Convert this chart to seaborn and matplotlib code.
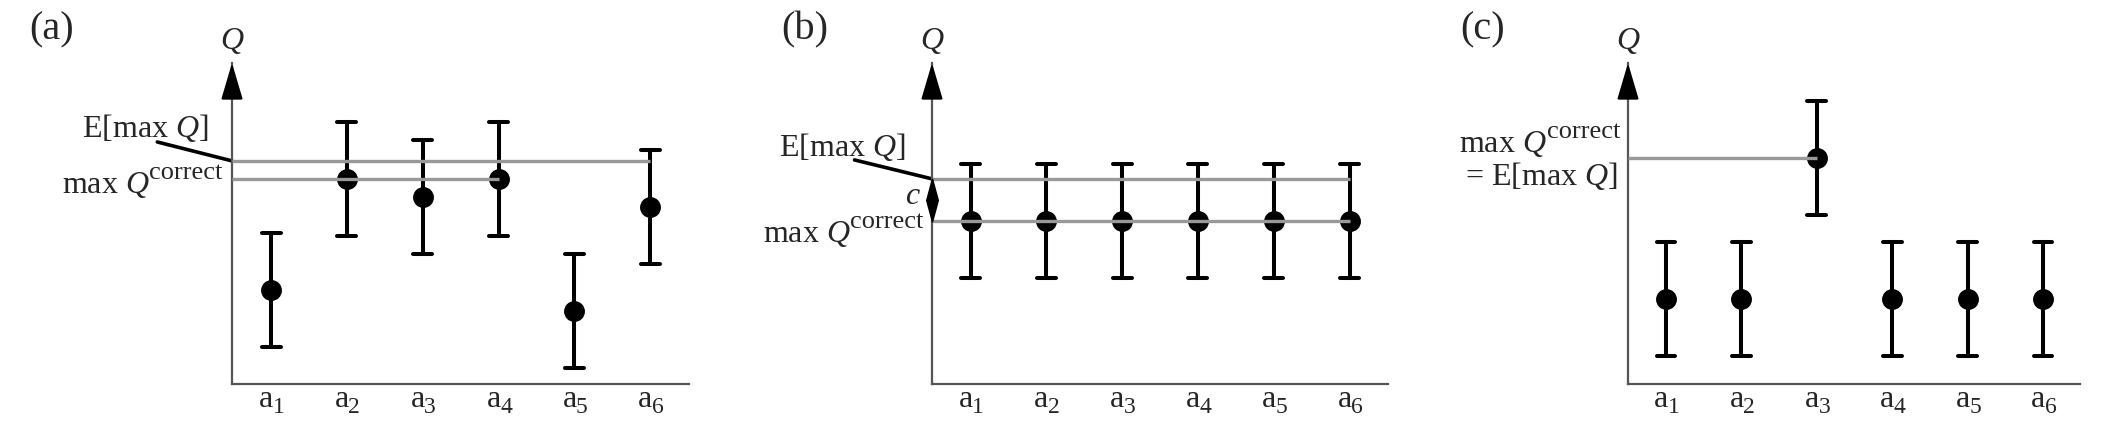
import numpy as np
import pandas as pd
import matplotlib.pyplot as plt
import matplotlib.transforms as mtransforms
import seaborn as sns

# values (Q axis runs 0..10, arrow tip = 10)
actions = ['a1', 'a2', 'a3', 'a4', 'a5', 'a6']
q_a = [2.93, 6.39, 5.83, 6.39, 2.27, 5.51]
q_b = [5.08, 5.08, 5.08, 5.08, 5.08, 5.08]
q_c = [2.65, 2.65, 7.04, 2.65, 2.65, 2.65]
spread = 1.78          # half length of every error bar
e_max_a, correct_a = 6.95, 6.39
e_max_b, correct_b = 6.39, 5.08
e_max_c = 7.04

sns.set_theme(style='white')
plt.rcParams['font.family'] = ['Liberation Serif', 'DejaVu Serif']
plt.rcParams['mathtext.fontset'] = 'custom'
plt.rcParams['mathtext.rm'] = 'Liberation Serif'
plt.rcParams['mathtext.it'] = 'Liberation Serif:italic'
plt.rcParams['mathtext.bf'] = 'Liberation Serif:bold'

FS = 23
GRAY = '#999999'

fig = plt.figure(figsize=(21.06, 4.30), dpi=100)
W, H = 2106, 430


def long_form(means):
    rows = []
    for act, m in zip(actions, means):
        for v in (m - spread, m, m + spread):
            rows.append({'action': act, 'Q': v})
    return pd.DataFrame(rows)


def max_q_correct(ax, x_right, y_base):
    # "max Q" + larger-than-mathtext superscript "correct"
    up = mtransforms.offset_copy(ax.transData, fig=fig, x=0, y=10, units='points')
    sup = ax.text(x_right, y_base, 'correct', fontsize=19, ha='right',
                  va='baseline', transform=up, clip_on=False)
    ax.annotate('max $Q$', xy=(0, y_base), xycoords=(sup, 'data'),
                xytext=(0, 0), textcoords='offset points', ha='right',
                va='baseline', fontsize=FS, annotation_clip=False)


def panel(ax, means, xlim):
    sns.pointplot(data=long_form(means), x='action', y='Q', order=actions,
                  estimator='mean', errorbar=lambda v: (v.min(), v.max()),
                  color='black', linestyle='none', markers='o', markersize=13,
                  capsize=0.25, err_kws={'linewidth': 2.9}, ax=ax)
    ax.set_xlim(*xlim)
    ax.set_ylim(0, 10)
    ax.set_xlabel('')
    ax.set_ylabel('')
    ax.set_yticks([])
    ax.set_xticks([])
    sns.despine(ax=ax)
    for s in ('left', 'bottom'):
        ax.spines[s].set_color('#555555')
        ax.spines[s].set_linewidth(1.6)
    # tick labels a_i with a large subscript
    for i in range(len(actions)):
        base = ax.text(i + 0.03, -0.072, 'a', transform=ax.get_xaxis_transform(),
                       ha='right', va='baseline', fontsize=FS)
        ax.annotate(str(i + 1), xy=(1, -0.072), xycoords=(base, 'axes fraction'),
                    xytext=(-0.5, -4.5), textcoords='offset points', ha='left',
                    va='baseline', fontsize=17, annotation_clip=False)
    ax.annotate('', xy=(0, 1), xytext=(0, 0.9), xycoords='axes fraction',
                arrowprops=dict(arrowstyle='-|>,head_length=2.3,head_width=0.68',
                                mutation_scale=10, color='black', lw=1.5,
                                shrinkA=0, shrinkB=0))
    ax.annotate('$Q$', xy=(0, 1), xycoords='axes fraction', xytext=(0, 10),
                textcoords='offset points', ha='center', va='baseline', fontsize=FS)


def add_axes(x0, x1):
    return fig.add_axes([x0 / W, (H - 384) / H, (x1 - x0) / W, (384 - 63) / H])


# (a)
ax = add_axes(232, 689)
xa = (-0.515, 6 - 0.49)
panel(ax, q_a, xa)
ax.hlines(e_max_a, xa[0], 5, color=GRAY, lw=2.4, zorder=5)
ax.hlines(correct_a, xa[0], 3, color=GRAY, lw=2.4, zorder=5)
ax.plot([-1.50, xa[0]], [7.54, e_max_a], color='black', lw=2.6, clip_on=False)
ax.text(-0.82, 7.97, 'E[max $Q$]', ha='right', va='center', fontsize=FS, clip_on=False)
max_q_correct(ax, -0.64, 5.95)
fig.text(29 / W, (H - 30) / H, '(a)', ha='left', va='center', fontsize=29)

# (b)
ax = add_axes(932, 1388)
xb = (-0.508, 5.507)
panel(ax, q_b, xb)
ax.hlines(e_max_b, xb[0], 5, color=GRAY, lw=2.4, zorder=5)
ax.hlines(correct_b, xb[0], 5, color=GRAY, lw=2.4, zorder=5)
ax.plot([-1.53, xb[0]], [6.98, e_max_b], color='black', lw=2.6, clip_on=False)
# the gap c between the two lines, drawn as a slim diamond
diamond = [(0, 1), (0.27, 0), (0, -1), (-0.27, 0), (0, 1)]
ax.plot([xb[0]], [(e_max_b + correct_b) / 2], marker=diamond, markersize=31,
        color='black', linestyle='none', clip_on=False, zorder=6)
ax.text(-0.76, 5.83, '$c$', ha='center', va='center', fontsize=FS, clip_on=False)
ax.text(-0.85, 7.38, 'E[max $Q$]', ha='right', va='center', fontsize=FS, clip_on=False)
max_q_correct(ax, -0.62, 4.42)
fig.text(781 / W, (H - 30) / H, '(b)', ha='left', va='center', fontsize=29)

# (c)
ax = add_axes(1628, 2080)
xc = (-0.504, 5.49)
panel(ax, q_c, xc)
ax.hlines(e_max_c, xc[0], 2, color=GRAY, lw=2.4, zorder=5)
max_q_correct(ax, -0.61, 7.23)
ax.text(-0.636, 6.48, '= E[max $Q$]', ha='right', va='center', fontsize=FS, clip_on=False)
fig.text(1460 / W, (H - 30) / H, '(c)', ha='left', va='center', fontsize=29)

fig.savefig('out.png', dpi=100, facecolor='white')
